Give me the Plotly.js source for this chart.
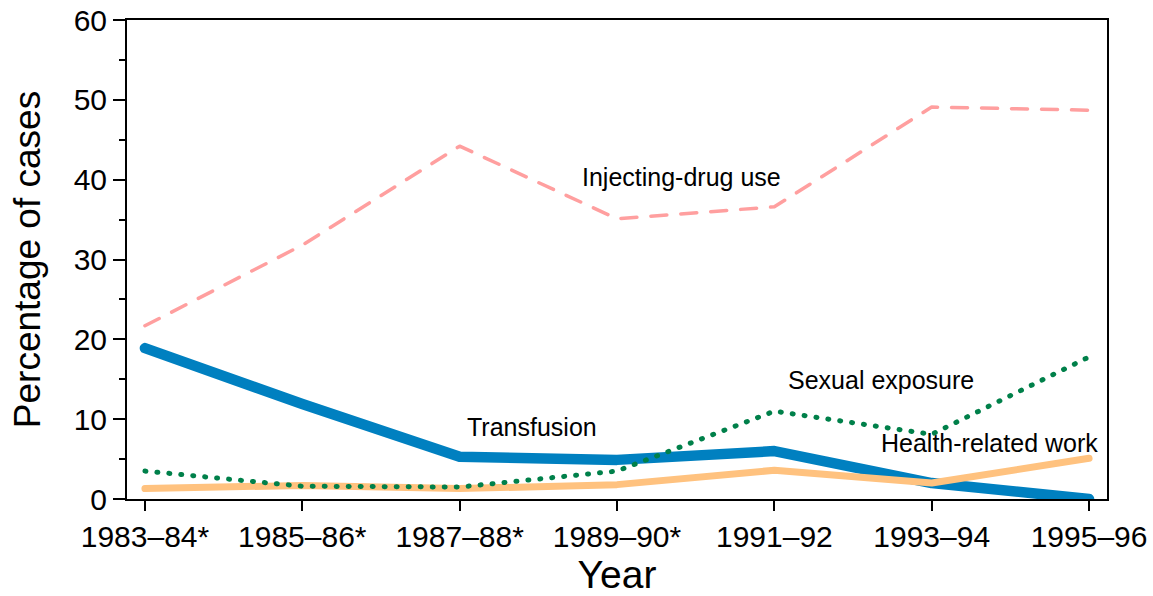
<!DOCTYPE html>
<html><head><meta charset="utf-8">
<script src="https://cdn.plot.ly/plotly-3.0.1.min.js"></script>
<style>
body{margin:0;padding:0;background:#fff}
#chart{width:1153px;height:596px}
.js-line{stroke-linecap:round;stroke-linejoin:round}
</style></head><body>
<div id="chart"></div>
<script>
const years = ['1983–84*','1985–86*','1987–88*','1989–90*','1991–92','1993–94','1995–96'];
const injectingDrugUse = [21.7, 31.8, 44.2, 35.1, 36.6, 49.1, 48.7];
const transfusion = [18.9, 11.9, 5.3, 4.9, 6.0, 2.0, 0.0];
const sexualExposure = [3.5, 1.6, 1.5, 3.5, 11.0, 8.1, 17.8];
const healthRelatedWork = [1.3, 1.7, 1.3, 1.8, 3.6, 2.0, 5.1];

const labelNames = ['Injecting-drug use','Transfusion','Sexual exposure','Health-related work'];

const font = 'Liberation Sans, Arial, Helvetica, sans-serif';

const traces = [
  {x: years, y: transfusion, mode:'lines', line:{color:'#0080c0', width:10.5}, cliponaxis:false},
  {x: years, y: healthRelatedWork, mode:'lines', line:{color:'#ffc27f', width:7}, cliponaxis:false},
  {x: years, y: sexualExposure, mode:'lines', line:{color:'#00804a', width:5, dash:'1px,11px'}, cliponaxis:false},
  {x: years, y: injectingDrugUse, mode:'lines', line:{color:'#ff9f9f', width:3.5, dash:'16px,14px'}, cliponaxis:false}
];

const layout = {
  width:1153, height:596,
  margin:{l:127, r:46, t:20, b:97},
  paper_bgcolor:'#fff', plot_bgcolor:'#fff',
  showlegend:false,
  font:{family:font, color:'#000', size:30},
  xaxis:{
    type:'category', range:[-0.114, 6.114],
    showline:true, linecolor:'#000', linewidth:2, mirror:true,
    ticks:'outside', ticklen:10, tickwidth:2, tickcolor:'#000',
    showgrid:false, zeroline:false,
    tickfont:{size:30, family:font},
    title:{text:'Year', font:{size:39, family:font}, standoff:8}
  },
  yaxis:{
    range:[0,60], tickvals:[0,10,20,30,40,50,60],
    showline:true, linecolor:'#000', linewidth:2, mirror:true,
    ticks:'outside', ticklen:12, tickwidth:2, tickcolor:'#000',
    minor:{tickvals:[5,15,25,35,45,55], ticks:'outside', ticklen:6, tickwidth:2, tickcolor:'#000'},
    showgrid:false, zeroline:false,
    tickfont:{size:30, family:font},
    title:{text:'Percentage of cases', font:{size:37, family:font}, standoff:22}
  },
  annotations:[
    {x:3.41, y:40.3, text:labelNames[0]},
    {x:2.46, y:9.0, text:labelNames[1]},
    {x:4.68, y:14.9, text:labelNames[2]},
    {x:5.37, y:7.0, text:labelNames[3]}
  ].map(a => Object.assign(a, {xref:'x', yref:'y', showarrow:false, font:{size:25, family:font, color:'#000'}}))
};

Plotly.newPlot('chart', traces, layout, {displayModeBar:false, staticPlot:true});
</script>
</body></html>
